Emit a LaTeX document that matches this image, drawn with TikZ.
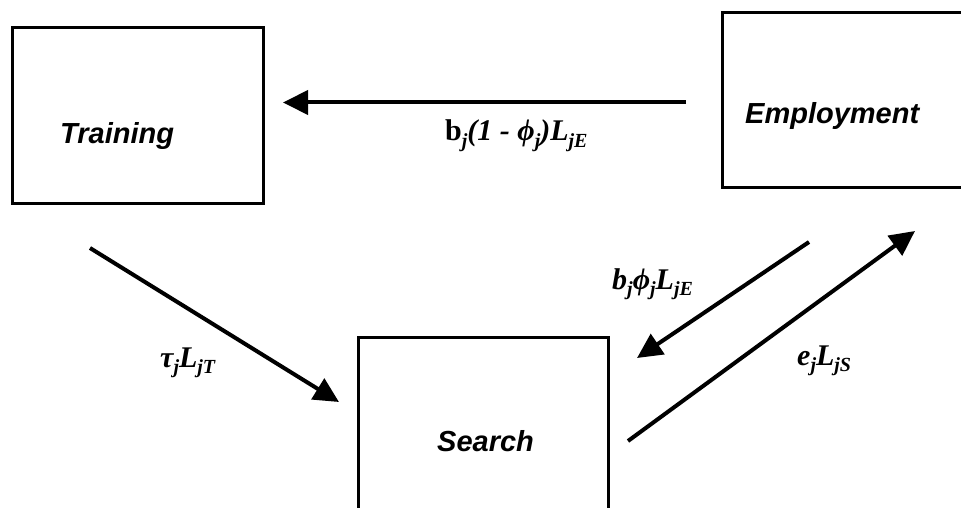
\documentclass[tikz,border=0pt]{standalone}
\usepackage{fontspec}
\setmainfont{Liberation Serif}
\newfontfamily\boxfont{Liberation Sans}
\usetikzlibrary{arrows.meta}

% lowered subscript for the flow labels
\newcommand\dn[1]{\lower6pt\hbox{\fontsize{20}{20}\selectfont\bfseries\itshape #1}}

\tikzset{
  state/.style={draw, line width=3pt, inner sep=0pt},
  statetext/.style={anchor=base west, inner sep=0pt,
    font=\boxfont\bfseries\itshape\fontsize{29}{33}\selectfont},
  flow/.style={line width=4pt, -{Triangle[length=25pt,width=24pt]}},
  rate/.style={anchor=base west, inner sep=0pt,
    font=\bfseries\itshape\fontsize{30}{34}\selectfont}
}

\begin{document}
\begin{tikzpicture}[x=1pt,y=-1pt]
\useasboundingbox (0,0) rectangle (961,508);
\clip (0,0) rectangle (961,508);

% the three states
\node[state, minimum width=251pt, minimum height=175pt] (training) at (137.5,115.5) {};
\node[state, minimum width=260pt, minimum height=174pt] (employment) at (852,100) {};
\node[state, minimum width=250pt, minimum height=180pt] (search) at (483,427) {};

\node[statetext] (ttrain) at (60,143) {Training};
\node[statetext] (temp) at (745,124) {Employment};
\node[statetext] (tsearch) at (437,451) {Search};

% end points of the flows
\coordinate (a1) at (686,102.5);
\coordinate (a2) at (283,102.5);
\coordinate (b1) at (90,248);
\coordinate (b2) at (339,402);
\coordinate (c1) at (809,242);
\coordinate (c2) at (637,358);
\coordinate (d1) at (628,441);
\coordinate (d2) at (915,231);

\draw[flow] (a1) -- (a2);
\draw[flow] (b1) -- (b2);
\draw[flow] (c1) -- (c2);
\draw[flow] (d1) -- (d2);

% transition rates
\node[rate] (lquit) at (445,141) {{\upshape b}\dn{j}(1 - ϕ\dn{j})L\dn{jE}};
\node[rate] (lsep) at (612,289) {b\dn{j}ϕ\dn{j}L\dn{jE}};
\node[rate] (ltrain) at (160,367) {τ\dn{j}L\dn{jT}};
\node[rate] (lhire) at (797,365) {e\dn{j}L\dn{jS}};
\end{tikzpicture}
\end{document}
